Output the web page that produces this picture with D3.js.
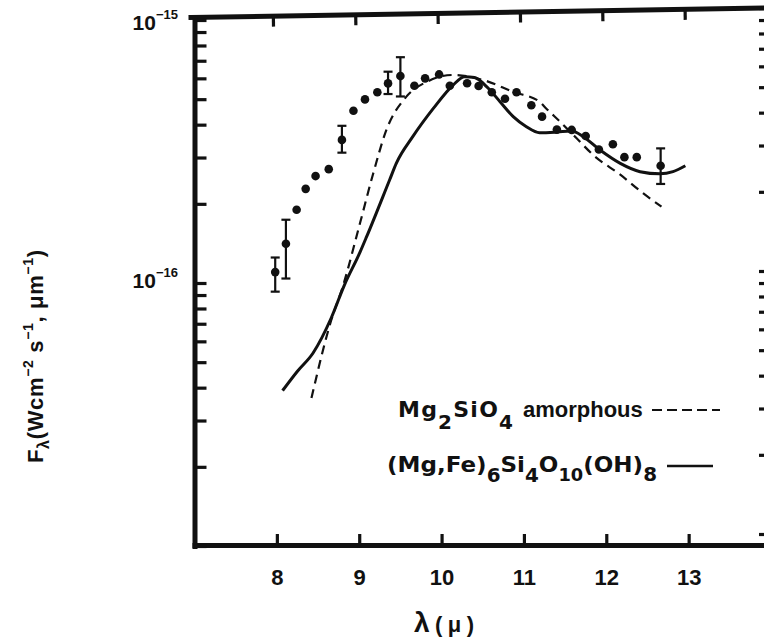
<!DOCTYPE html>
<html>
<head>
<meta charset="utf-8">
<script src="https://cdn.jsdelivr.net/npm/d3@7/dist/d3.min.js"></script>
<style>
  html, body { margin: 0; padding: 0; background: #ffffff; }
  svg { display: block; }
  text { font-family: "Liberation Sans", Arial, Helvetica, sans-serif; font-weight: bold; fill: #111; }
  text.formula { font-family: "DejaVu Sans", "Liberation Sans", sans-serif; }
</style>
</head>
<body>
<svg id="chart" width="764" height="641"></svg>
<script>
// Flux values are in units of 1e-16 W cm^-2 um^-1; wavelengths in microns.
const UNIT = 1e-16;

// Observed spectrum
const obsLambda = [7.98, 8.11, 8.24, 8.35, 8.47, 8.63, 8.79, 8.93, 9.07, 9.22, 9.35, 9.50,
                   9.67, 9.80, 9.97, 10.10, 10.31, 10.45, 10.61, 10.77, 10.91, 11.09, 11.22,
                   11.40, 11.58, 11.75, 11.91, 12.08, 12.22, 12.37, 12.66];
const obsFlux   = [1.10, 1.41, 1.90, 2.28, 2.55, 2.71, 3.50, 4.52, 4.99, 5.31, 5.74, 6.12,
                   5.62, 6.00, 6.21, 5.62, 5.75, 5.61, 5.31, 5.02, 5.31, 4.74, 4.29,
                   3.83, 3.82, 3.62, 3.22, 3.37, 3.01, 3.01, 2.79];

// Error bars on selected observed points (index into the arrays above)
const errIndex = [0, 1, 6, 10, 11, 30];
const errLow   = [0.927, 1.04, 3.13, 5.23, 5.12, 2.38];
const errHigh  = [1.25, 1.74, 3.96, 6.36, 7.22, 3.25];

// Model: amorphous Mg2SiO4 (dashed)
const amorLambda = [8.42, 8.66, 8.80, 9.01, 9.17, 9.33, 9.57, 9.82, 10.14, 10.50, 10.87,
                    11.19, 11.27, 11.44, 11.64, 11.84, 12.17, 12.45, 12.67];
const amorFlux   = [0.365, 0.722, 0.968, 1.69, 2.61, 3.82, 5.10, 5.82, 6.18, 5.92, 5.33,
                    4.89, 4.61, 4.10, 3.55, 3.07, 2.58, 2.19, 1.95];

// Model: (Mg,Fe)6Si4O10(OH)8 (solid)
const chlLambda = [8.07, 8.25, 8.44, 8.66, 8.82, 9.01, 9.09, 9.37, 9.45, 9.65, 9.90, 10.14,
                   10.28, 10.40, 10.55, 10.71, 10.87, 11.03, 11.19, 11.40, 11.58, 11.72,
                   11.92, 12.17, 12.41, 12.65, 12.81, 12.96];
const chlFlux   = [0.390, 0.462, 0.542, 0.736, 0.982, 1.31, 1.50, 2.47, 2.85, 3.60, 4.61, 5.66,
                   6.09, 6.04, 5.57, 4.89, 4.29, 3.93, 3.73, 3.75, 3.78, 3.60,
                   3.21, 2.85, 2.65, 2.60, 2.65, 2.79];

// Axis ticks and labels
const xTicks = [8, 9, 10, 11, 12, 13];
const yLabelExps = [-15, -16];

const svg = d3.select("#chart");

const x = d3.scaleLinear().domain([7, 14]).range([194.5, 771]);
const y = d3.scaleLog().domain([1e-17, 1e-15]).range([546, 20]);

const FRAME_W = 5;

function styleAxis(g) {
  g.attr("font-family", null).attr("font-size", null);
  g.select(".domain").attr("stroke", "#111").attr("stroke-width", FRAME_W)
    .attr("stroke-linecap", "square");
  g.selectAll(".tick line").attr("stroke", "#111").attr("stroke-width", 3.2);
}

// Bottom axis: inward ticks, labels below
const gBottom = svg.append("g")
  .attr("transform", "translate(0,545)")
  .call(d3.axisBottom(x).tickValues(xTicks).tickSizeInner(-11).tickSizeOuter(0)
        .tickPadding(24).tickFormat(d3.format("d")));
styleAxis(gBottom);
gBottom.selectAll(".tick text").attr("font-size", 22).attr("fill", "#111");

// Top axis: inward ticks, no labels (frame edge runs slightly uphill)
const gTop = svg.append("g")
  .attr("transform", "translate(-4,17) rotate(-0.94,194.5,0)")
  .call(d3.axisBottom(x).tickValues(xTicks).tickSizeInner(11).tickSizeOuter(0).tickFormat(""));
styleAxis(gTop);

// Left axis: logarithmic, inward ticks
const gLeft = svg.append("g")
  .attr("transform", "translate(194.5,0)")
  .call(d3.axisRight(y).tickValues(y.ticks()).tickSizeInner(12).tickSizeOuter(0).tickFormat(""));
styleAxis(gLeft);

// Right axis: logarithmic, inward ticks
const gRight = svg.append("g")
  .attr("transform", "translate(771,-12)")
  .call(d3.axisLeft(y).tickValues(y.ticks()).tickSizeInner(12).tickSizeOuter(0).tickFormat(""));
styleAxis(gRight);

// Decade labels 10^-15, 10^-16
yLabelExps.forEach(e => {
  const yy = y(Math.pow(10, e));
  const t = svg.append("text")
    .attr("x", 178).attr("y", yy + (e === -15 ? 10 : 5))
    .attr("text-anchor", "end")
    .attr("font-size", 21);
  t.append("tspan").text("10");
  t.append("tspan").attr("font-size", 13).attr("dy", -11).text("\u2212" + String(-e));
});

// Model curves
const line = d3.line()
  .x(d => x(d[0]))
  .y(d => y(d[1] * UNIT))
  .curve(d3.curveMonotoneX);

svg.append("path")
  .datum(d3.zip(amorLambda, amorFlux))
  .attr("d", line)
  .attr("fill", "none").attr("stroke", "#111").attr("stroke-width", 2.2)
  .attr("stroke-dasharray", "9,6");

svg.append("path")
  .datum(d3.zip(chlLambda, chlFlux))
  .attr("d", line)
  .attr("fill", "none").attr("stroke", "#111").attr("stroke-width", 3)
  .attr("stroke-linejoin", "round");

// Error bars
const errData = errIndex.map((k, i) => ({ l: obsLambda[k], lo: errLow[i], hi: errHigh[i] }));
const eg = svg.append("g").attr("stroke", "#111").attr("stroke-width", 2.2);
eg.selectAll("line.v").data(errData).join("line").attr("class", "v")
  .attr("x1", d => x(d.l)).attr("x2", d => x(d.l))
  .attr("y1", d => y(d.lo * UNIT)).attr("y2", d => y(d.hi * UNIT));
eg.selectAll("line.lo").data(errData).join("line").attr("class", "lo")
  .attr("x1", d => x(d.l) - 4.5).attr("x2", d => x(d.l) + 4.5)
  .attr("y1", d => y(d.lo * UNIT)).attr("y2", d => y(d.lo * UNIT));
eg.selectAll("line.hi").data(errData).join("line").attr("class", "hi")
  .attr("x1", d => x(d.l) - 4.5).attr("x2", d => x(d.l) + 4.5)
  .attr("y1", d => y(d.hi * UNIT)).attr("y2", d => y(d.hi * UNIT));

// Observed points
svg.append("g").selectAll("circle")
  .data(d3.zip(obsLambda, obsFlux))
  .join("circle")
  .attr("cx", d => x(d[0])).attr("cy", d => y(d[1] * UNIT))
  .attr("r", 4.3).attr("fill", "#111");

// Legend
const lg1 = svg.append("text").attr("class", "formula")
  .attr("x", 398).attr("y", 417).attr("font-size", 22)
  .attr("textLength", 115).attr("lengthAdjust", "spacing");
lg1.append("tspan").text("Mg");
lg1.append("tspan").attr("font-size", 20).attr("dy", 12).text("2");
lg1.append("tspan").attr("dy", -12).text("SiO");
lg1.append("tspan").attr("font-size", 20).attr("dy", 12).text("4");

svg.append("text").attr("x", 523).attr("y", 417).attr("font-size", 22).text("amorphous");
svg.append("line").attr("x1", 652).attr("x2", 720).attr("y1", 410).attr("y2", 410)
  .attr("stroke", "#111").attr("stroke-width", 2.2).attr("stroke-dasharray", "10,5");

const lg2 = svg.append("text").attr("class", "formula")
  .attr("x", 387).attr("y", 472).attr("font-size", 22)
  .attr("textLength", 270).attr("lengthAdjust", "spacingAndGlyphs");
lg2.append("tspan").text("(Mg,Fe)");
lg2.append("tspan").attr("font-size", 19).attr("dy", 10).text("6");
lg2.append("tspan").attr("dy", -10).text("Si");
lg2.append("tspan").attr("font-size", 19).attr("dy", 10).text("4");
lg2.append("tspan").attr("dy", -10).text("O");
lg2.append("tspan").attr("font-size", 17).attr("dy", 9).text("10");
lg2.append("tspan").attr("dy", -9).text("(OH)");
lg2.append("tspan").attr("font-size", 19).attr("dy", 9).text("8");
svg.append("line").attr("x1", 667).attr("x2", 713).attr("y1", 466).attr("y2", 466)
  .attr("stroke", "#111").attr("stroke-width", 2.4);

// Y axis title
const yt = svg.append("text").attr("transform", "translate(43,463) rotate(-90)")
  .attr("font-size", 22).attr("textLength", 213).attr("lengthAdjust", "spacing");
yt.append("tspan").text("F");
yt.append("tspan").attr("font-size", 16).attr("dy", 6).text("\u03bb");
yt.append("tspan").attr("dy", -6).text("(Wcm");
yt.append("tspan").attr("font-size", 14).attr("dy", -10).text("\u22122");
yt.append("tspan").attr("dy", 10).text(" s");
yt.append("tspan").attr("font-size", 14).attr("dy", -10).text("\u22121");
yt.append("tspan").attr("dy", 10).text(", \u03bcm");
yt.append("tspan").attr("font-size", 14).attr("dy", -10).text("\u22121");
yt.append("tspan").attr("dy", 10).text(")");

// X axis title
const xt = svg.append("text").attr("x", 414).attr("y", 632)
  .attr("textLength", 60).attr("lengthAdjust", "spacing");
xt.append("tspan").attr("font-size", 28).text("\u03bb");
xt.append("tspan").attr("font-size", 22).text("(\u03bc)");
</script>
</body>
</html>
